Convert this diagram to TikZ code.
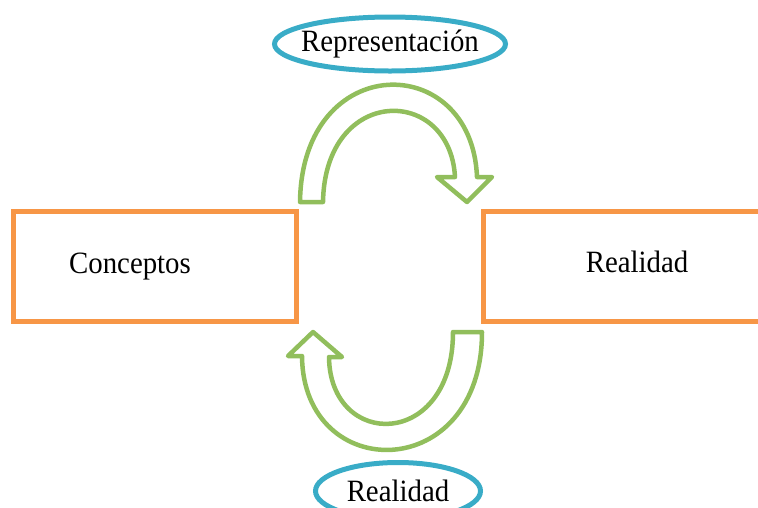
\documentclass[tikz,border=0pt]{standalone}
\usepackage{fontspec}
\setmainfont[FakeStretch=0.93]{Liberation Serif}
\usetikzlibrary{shapes.geometric}
\definecolor{boxorange}{RGB}{247,150,70}
\definecolor{ovalblue}{RGB}{57,172,199}
\definecolor{arrowgreen}{RGB}{145,190,92}
\tikzset{
  box/.style={draw=boxorange, line width=5pt, rectangle, inner sep=0pt},
  oval/.style={draw=ovalblue, line width=5pt, ellipse, inner sep=0pt, inner xsep=-30pt, font=\fontsize{31}{37}\selectfont},
  txt/.style={anchor=base, font=\fontsize{31}{37}\selectfont},
  curvearrow/.style={draw=arrowgreen, line width=4.5pt, line join=round, fill=white}
}
\begin{document}
\begin{tikzpicture}[x=1pt,y=-1pt]
\useasboundingbox (0,0) rectangle (758,507);
\clip (0,0) rectangle (758,507);
% the two boxes (the right one runs off the page)
\node[box, minimum width=282.5pt, minimum height=110pt] (conceptos) at (154.75,266) {};
\node[box, minimum width=310pt, minimum height=110pt] (realidad) at (638.5,266) {};
\node[txt] (conceptosTxt) at (130,273) {Conceptos};
\node[txt] (realidadTxt) at (637,272) {Realidad};
% the two ovals
\node[oval, minimum width=231pt, minimum height=54pt] (repr) at (390,44) {Representación};
\node[oval, minimum width=165pt, minimum height=57pt] (real) at (398,491) {Realidad};
% upper arrow, from Conceptos over to Realidad
\draw[curvearrow] (300,202) .. controls (302,50) and (472,50) .. (477,177)
  -- (492,177) -- (467,202) -- (437,177) -- (455,177)
  .. controls (450,85) and (325,85) .. (323,202) -- cycle;
% lower arrow, from Realidad back to Conceptos
\draw[curvearrow] (482,332) .. controls (482,485) and (303,485) .. (302,356)
  -- (288,356) -- (313,332) -- (342,357) -- (329,357)
  .. controls (330,450) and (453,450) .. (453,332) -- cycle;
\end{tikzpicture}
\end{document}
